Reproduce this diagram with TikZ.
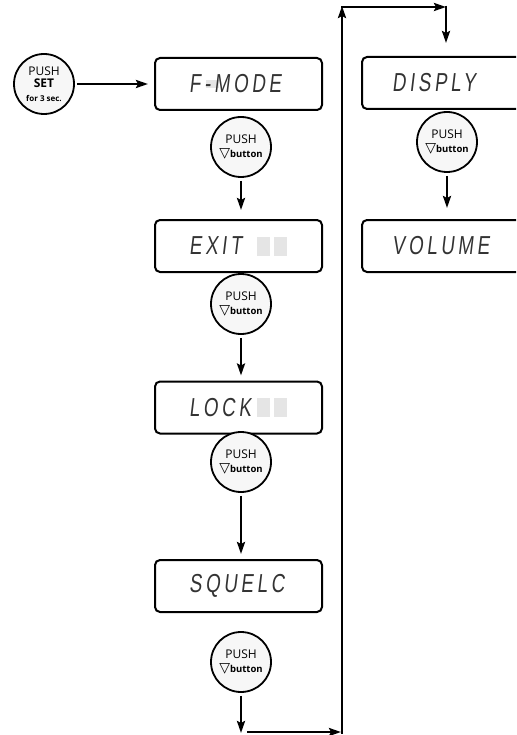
\documentclass[tikz,border=0pt]{standalone}
\usepackage{fontspec}
\setmainfont{Open Sans}
\newfontfamily\lcdfont[FakeSlant=0.12,FakeStretch=0.72,LetterSpace=14]{Liberation Sans}
\newfontfamily\symfont{DejaVu Sans}
\usetikzlibrary{arrows.meta}
\newcommand{\tri}{{\symfont\fontsize{14}{14}\selectfont ▽}}
\newcommand{\btn}{PUSH\\[0.5pt]\tri{\bfseries\fontsize{9.5}{10}\selectfont button}}
\tikzset{
  pushc/.style={circle,draw=black,line width=1.8pt,fill=black!3,minimum size=60pt,inner sep=0pt,align=center,font=\fontsize{12}{13}\selectfont},
  lcd/.style={draw=black,line width=2pt,rounded corners=5pt,minimum width=167pt,minimum height=52pt,inner sep=0pt},
  lcdtxt/.style={anchor=west,inner sep=0pt,text=black!80,font=\lcdfont\fontsize{26}{26}\selectfont},
  ghost/.style={fill=black!10,draw=none},
  arr/.style={line width=2.6pt,-{Stealth[length=12pt,width=8pt,inset=2pt]}},
}
\begin{document}
\begin{tikzpicture}[x=1pt,y=-1pt]
\useasboundingbox (0,0) rectangle (516,735);
\clip (0,0) rectangle (516,735);
% start
\node[pushc] (s) at (44,84) {PUSH\\[-1pt]{\bfseries SET}\\[0.5pt]{\bfseries\fontsize{8}{8}\selectfont for 3 sec.}};
% left column boxes
\node[lcd] (b1) at (238.5,84) {};
\node[lcd] (b2) at (238.5,246) {};
\node[lcd] (b3) at (238.5,407.5) {};
\node[lcd] (b4) at (238.5,586) {};
% right column boxes (cut at right edge)
\node[lcd] (b5) at (445.5,83) {};
\node[lcd] (b6) at (445.5,246) {};
% ghost segments
\fill[ghost] (206,80) rectangle (219,88);
\fill[ghost] (257,237) rectangle (270,256);
\fill[ghost] (274,237) rectangle (287,256);
\fill[ghost] (257,398) rectangle (270,417);
\fill[ghost] (274,398) rectangle (287,417);
% lcd texts
\node[lcdtxt] (t1) at (189,84) {F-MODE};
\node[lcdtxt] (t2) at (189,246) {EXIT};
\node[lcdtxt] (t3) at (189,407.5) {LOCK};
\node[lcdtxt] (t4) at (189,586) {SQUELC};
\node[lcdtxt] (t5) at (392,83) {DISPLY};
\node[lcdtxt] (t6) at (392,246) {VOLUME};
% push circles
\node[pushc] (c1) at (241,147) {\btn};
\node[pushc] (c2) at (241,304) {\btn};
\node[pushc] (c3) at (241,462) {\btn};
\node[pushc] (c4) at (241,662) {\btn};
\node[pushc] (c5) at (447,142) {\btn};
% connectors
\draw[arr,shorten <=2pt,shorten >=6pt] (s.east |- b1.west) -- (b1.west);
\draw[arr,shorten <=3pt,shorten >=9pt] (c1.south) -- (c1.south |- b2.north);
\draw[arr,shorten <=3pt,shorten >=5pt] (c2.south) -- (c2.south |- b3.north);
\draw[arr,shorten <=3pt,shorten >=5pt] (c3.south) -- (c3.south |- b4.north);
\draw[arr,shorten <=3pt,shorten >=11pt] (c5.south) -- (c5.south |- b6.north);
\coordinate (d1) at (241,733);
\coordinate (h1) at (247,732);
\coordinate (h2) at (341,732);
\coordinate (v1) at (342,733.5);
\coordinate (v2) at (342,6);
\coordinate (h3) at (341,7);
\coordinate (h4) at (446,7);
\coordinate (v3) at (446,5.7);
\draw[arr,shorten <=3pt] (c4.south) -- (d1);
\draw[arr] (h1) -- (h2);
\draw[arr] (v1) -- (v2);
\draw[arr] (h3) -- (h4);
\draw[arr,shorten >=13pt] (v3) -- (b5.north -| v3);
\end{tikzpicture}
\end{document}
